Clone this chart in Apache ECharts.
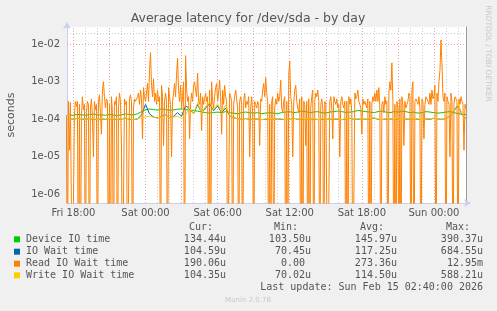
<!DOCTYPE html>
<html><head><meta charset="utf-8">
<script src="https://cdn.jsdelivr.net/npm/echarts@6/dist/echarts.min.js"></script>
<style>html,body{margin:0;padding:0;background:#f0f0f0}#c{width:497px;height:311px}</style>
</head><body><div id="c"></div>
<script>
// ---- data (values in microseconds) ----
const xTickHours = [18, 24, 30, 36, 42, 48];
const xTickLabels = ['Fri 18:00', 'Sat 00:00', 'Sat 06:00', 'Sat 12:00', 'Sat 18:00', 'Sun 00:00'];
const yTickValues = [1e-6, 1e-5, 1e-4, 1e-3, 1e-2];
const yTickLabels = ['1e-06', '1e-05', '1e-04', '1e-03', '1e-02'];

// orange: 5-minute samples ending Sun 02:40 (hour 50.667)
const readStep = 1 / 12;
const readStart = 50 + 2 / 3 - 399 / 12;
const readIO = [
  130, 0, 300, 15, 280, 250, 0, 0, 130, 300,
  220, 300, 0, 250, 0, 120, 400, 180, 250, 0,
  150, 300, 250, 0, 200, 350, 120, 10, 300, 180,
  250, 0, 300, 450, 150, 40, 600, 1000, 400, 200,
  350, 300, 0, 250, 0, 400, 150, 0, 300, 250,
  400, 0, 200, 500, 300, 20, 0, 0, 350, 250,
  300, 0, 0, 350, 450, 300, 0, 200, 350, 300,
  300, 400, 500, 250, 600, 350, 30, 700, 400, 300,
  500, 900, 300, 2000, 6000, 800, 400, 1200, 300, 500,
  250, 600, 300, 400, 0, 800, 400, 20, 300, 500,
  300, 0, 700, 400, 250, 10, 300, 500, 900, 400,
  1500, 4300, 600, 300, 800, 200, 400, 1000, 0, 5000,
  700, 300, 400, 30, 250, 500, 300, 800, 1000, 600,
  400, 1700, 300, 250, 500, 50, 400, 250, 350, 500,
  300, 400, 0, 600, 0, 1000, 300, 200, 400, 700,
  900, 300, 500, 1100, 400, 40, 600, 250, 800, 400,
  300, 0, 0, 500, 400, 300, 0, 250, 400, 600,
  350, 200, 0, 300, 400, 250, 0, 300, 500, 200,
  300, 250, 400, 10, 200, 400, 150, 0, 300, 250,
  200, 300, 250, 20, 350, 300, 600, 900, 400, 1300,
  500, 300, 0, 250, 0, 300, 400, 0, 200, 350,
  250, 500, 300, 400, 1100, 200, 150, 300, 400, 0,
  300, 0, 1500, 3600, 400, 250, 10, 300, 600, 800,
  300, 200, 150, 350, 0, 400, 0, 300, 250, 20,
  300, 0, 350, 0, 200, 400, 600, 0, 300, 500,
  400, 600, 300, 0, 250, 350, 200, 0, 300, 250,
  250, 0, 0, 300, 400, 200, 30, 400, 300, 250,
  350, 200, 250, 10, 300, 400, 250, 200, 300, 0,
  300, 0, 400, 250, 350, 150, 0, 0, 500, 350,
  400, 600, 300, 250, 200, 40, 350, 250, 300, 300,
  200, 350, 0, 300, 0, 250, 400, 300, 500, 300,
  600, 300, 700, 200, 0, 250, 300, 150, 400, 250,
  300, 0, 500, 1000, 600, 3200, 300, 0, 250, 0,
  300, 200, 0, 350, 0, 400, 250, 20, 300, 200,
  250, 300, 500, 400, 0, 600, 1000, 0, 300, 350,
  300, 250, 400, 200, 0, 350, 300, 30, 250, 400,
  400, 300, 250, 500, 250, 600, 350, 400, 800, 0,
  500, 300, 1000, 2000, 13000, 3000, 400, 300, 500, 0,
  400, 300, 250, 10, 500, 300, 0, 250, 400, 350,
  300, 0, 350, 250, 400, 300, 250, 15, 250, 190
];

// green / blue / yellow: 20-minute samples ending Sun 02:40
const slowStep = 1 / 3;
const slowStart = 50 + 2 / 3 - 99 / 3;
const deviceIO = [
  130,128,135,132,128,134,138,132,130,128,
  135,130,126,132,138,135,130,140,160,178,
  188,182,175,190,182,172,178,186,190,182,
  176,170,165,158,150,146,152,156,150,160,
  150,146,140,150,156,150,146,150,140,146,
  150,146,140,152,156,160,150,156,165,160,
  150,156,160,150,146,156,160,166,160,152,
  156,160,172,166,160,156,150,160,166,156,
  150,160,156,166,160,150,156,146,150,160,
  156,150,146,150,156,160,150,142,136,134
];
const ioWait = [
  104,100,106,102,100,104,100,98,102,100,
  104,100,98,102,106,100,98,102,130,250,
  140,115,108,120,130,112,118,150,120,230,
  190,140,250,150,200,260,170,230,150,200,
  125,110,104,100,104,100,100,102,98,100,
  104,100,102,100,98,102,106,100,100,104,
  100,102,98,100,104,100,102,100,98,102,
  106,100,100,104,100,102,108,100,98,102,
  100,104,100,98,102,100,104,100,98,102,
  100,106,102,100,104,125,170,230,135,105
];
const writeIO = [
  105,100,108,104,100,106,102,98,104,100,
  106,102,100,104,108,102,98,104,110,115,
  120,112,108,118,125,110,115,120,105,130,
  200,140,280,150,220,300,180,260,160,240,
  130,110,104,100,106,102,100,104,98,102,
  106,100,104,102,98,104,108,100,102,106,
  100,104,98,102,106,100,104,102,98,104,
  108,100,102,106,100,104,110,102,98,104,
  100,106,102,98,104,100,106,102,98,104,
  102,108,104,100,106,130,180,250,140,104
];

const legendNames = ['Device IO time', 'IO Wait time', 'Read IO Wait time', 'Write IO Wait time'];
const legendColors = ['#00CC00', '#0066B3', '#FF8000', '#FFCC00'];
const legendCur = ['134.44u', '104.59u', '190.06u', '104.35u'];
const legendMin = ['103.50u', '70.45u', '0.00', '70.02u'];
const legendAvg = ['145.97u', '117.25u', '273.36u', '114.50u'];
const legendMax = ['390.37u', '684.55u', '12.95m', '588.21u'];
const lastUpdate = 'Last update: Sun Feb 15 02:40:00 2026';

// ---- build ----
const US = 1e-6, FLOOR = 1e-9; // zero drawn below the axis floor (clipped)
function toPairs(vals, start, step) {
  return vals.map((v, i) => [start + i * step, Math.max(v * US, FLOOR)]);
}
const xMin = 17.467, xMax = 50.667;
const yMin = 5.86e-7, yMax = 0.0289;

const MINOR = '#cccccc', MAJOR = '#e6a4a4';
const gridLines = [];
for (let h = 18; h <= 50; h++) {
  gridLines.push({xAxis: h, lineStyle: {color: h % 3 === 0 ? MAJOR : MINOR, type: [1, 2], width: 1}});
}
for (let e = -7; e <= -2; e++) {
  for (let k = 1; k <= 9; k++) {
    const v = k * Math.pow(10, e);
    if (v <= yMin || v >= yMax) continue;
    gridLines.push({yAxis: v, lineStyle: {color: k === 1 ? MAJOR : MINOR, type: [1, 2], width: 1}});
  }
}

const graphics = [];
const mono = '"DejaVu Sans Mono", monospace';
const rowY = [239.3, 251.7, 263.7, 275.3];
const colRight = [226, 311, 397, 483];
const headers = ['Cur:', 'Min:', 'Avg:', 'Max:'];
headers.forEach((h, j) => graphics.push({type: 'text', x: colRight[j] - 13, y: 227.3,
  style: {text: h, font: '10px ' + mono, fill: '#555', align: 'right', verticalAlign: 'middle'}}));
legendNames.forEach((n, i) => {
  graphics.push({type: 'rect', shape: {x: 14, y: rowY[i] - 3, width: 6, height: 6}, style: {fill: legendColors[i]}});
  graphics.push({type: 'text', x: 26, y: rowY[i], style: {text: n, font: '10px ' + mono, fill: '#555', verticalAlign: 'middle'}});
  [legendCur[i], legendMin[i], legendAvg[i], legendMax[i]].forEach((t, j) => {
    const r = /[a-z]$/.test(t) ? colRight[j] : colRight[j] - 6;
    graphics.push({type: 'text', x: r, y: rowY[i], style: {text: t, font: '10px ' + mono, fill: '#555', align: 'right', verticalAlign: 'middle'}});
  });
});
graphics.push({type: 'text', x: 483, y: 287.7, style: {text: lastUpdate, font: '10px ' + mono, fill: '#555', align: 'right', verticalAlign: 'middle'}});
graphics.push({type: 'text', x: 248, y: 300, style: {text: 'Munin 2.0.76', font: '7px "DejaVu Sans"', fill: '#c8c8c8', align: 'center', verticalAlign: 'middle'}});
graphics.push({type: 'text', x: 487.5, y: 53.5, rotation: -Math.PI / 2,
  style: {text: 'RRDTOOL / TOBI OETIKER', font: '7.5px "DejaVu Sans"', fill: '#c8c8c8', align: 'center', verticalAlign: 'middle'}});
graphics.push({type: 'text', x: 248, y: 19, style: {text: 'Average latency for /dev/sda - by day', font: '12.5px "DejaVu Sans"', fill: '#555', align: 'center', verticalAlign: 'middle'}});
graphics.push({type: 'text', x: 11, y: 115, rotation: Math.PI / 2,
  style: {text: 'seconds', font: '11px "DejaVu Sans"', fill: '#555', align: 'center', verticalAlign: 'middle'}});

function mk(name, vals, start, step, color) {
  return {name, type: 'line', data: toPairs(vals, start, step), showSymbol: false, symbol: 'none',
    lineStyle: {color, width: 1}, itemStyle: {color}, z: 3, clip: true, animation: false};
}

const chart = echarts.init(document.getElementById('c'), null, {renderer: 'canvas'});
chart.setOption({
  backgroundColor: '#f0f0f0',
  animation: false,
  grid: {left: 67, right: 31, top: 27, bottom: 108, show: true, backgroundColor: '#ffffff', borderWidth: 0},
  xAxis: {
    type: 'value', min: xMin, max: xMax,
    axisLine: {show: true, lineStyle: {color: '#c8d0f0'}, symbol: ['none', 'arrow'], symbolSize: [6, 7], symbolOffset: [0, 5]},
    axisTick: {show: false},
    splitLine: {show: false},
    axisLabel: {customValues: xTickHours, color: '#555', fontSize: 10, fontFamily: 'DejaVu Sans', margin: 5,
      formatter: v => xTickLabels[xTickHours.indexOf(Math.round(v))] || ''}
  },
  yAxis: [{
    type: 'log', min: yMin, max: yMax, logBase: 10,
    axisLine: {show: true, lineStyle: {color: '#c8d0f0'}, symbol: ['none', 'arrow'], symbolSize: [6, 7], symbolOffset: [0, 5]},
    axisTick: {show: false},
    splitLine: {show: false},
    axisLabel: {customValues: yTickValues, color: '#555', fontSize: 10, fontFamily: 'DejaVu Sans', margin: 7,
      formatter: v => {
        const e = Math.round(Math.log10(v));
        const idx = yTickValues.findIndex(t => Math.round(Math.log10(t)) === e);
        return idx >= 0 ? yTickLabels[idx] : '';
      }}
  }, {
    type: 'value', position: 'right', min: 0, max: 1,
    axisLine: {show: true, lineStyle: {color: '#999'}}, axisTick: {show: false}, axisLabel: {show: false}, splitLine: {show: false}
  }],
  graphic: graphics,
  series: [
    {type: 'line', data: [], z: 1, silent: true,
      markLine: {silent: true, symbol: 'none', z: 1, animation: false, label: {show: false}, data: gridLines}},
    mk(legendNames[0], deviceIO, slowStart, slowStep, legendColors[0]),
    mk(legendNames[1], ioWait, slowStart, slowStep, legendColors[1]),
    mk(legendNames[2], readIO, readStart, readStep, legendColors[2]),
    mk(legendNames[3], writeIO, slowStart, slowStep, legendColors[3])
  ]
});
</script></body></html>
